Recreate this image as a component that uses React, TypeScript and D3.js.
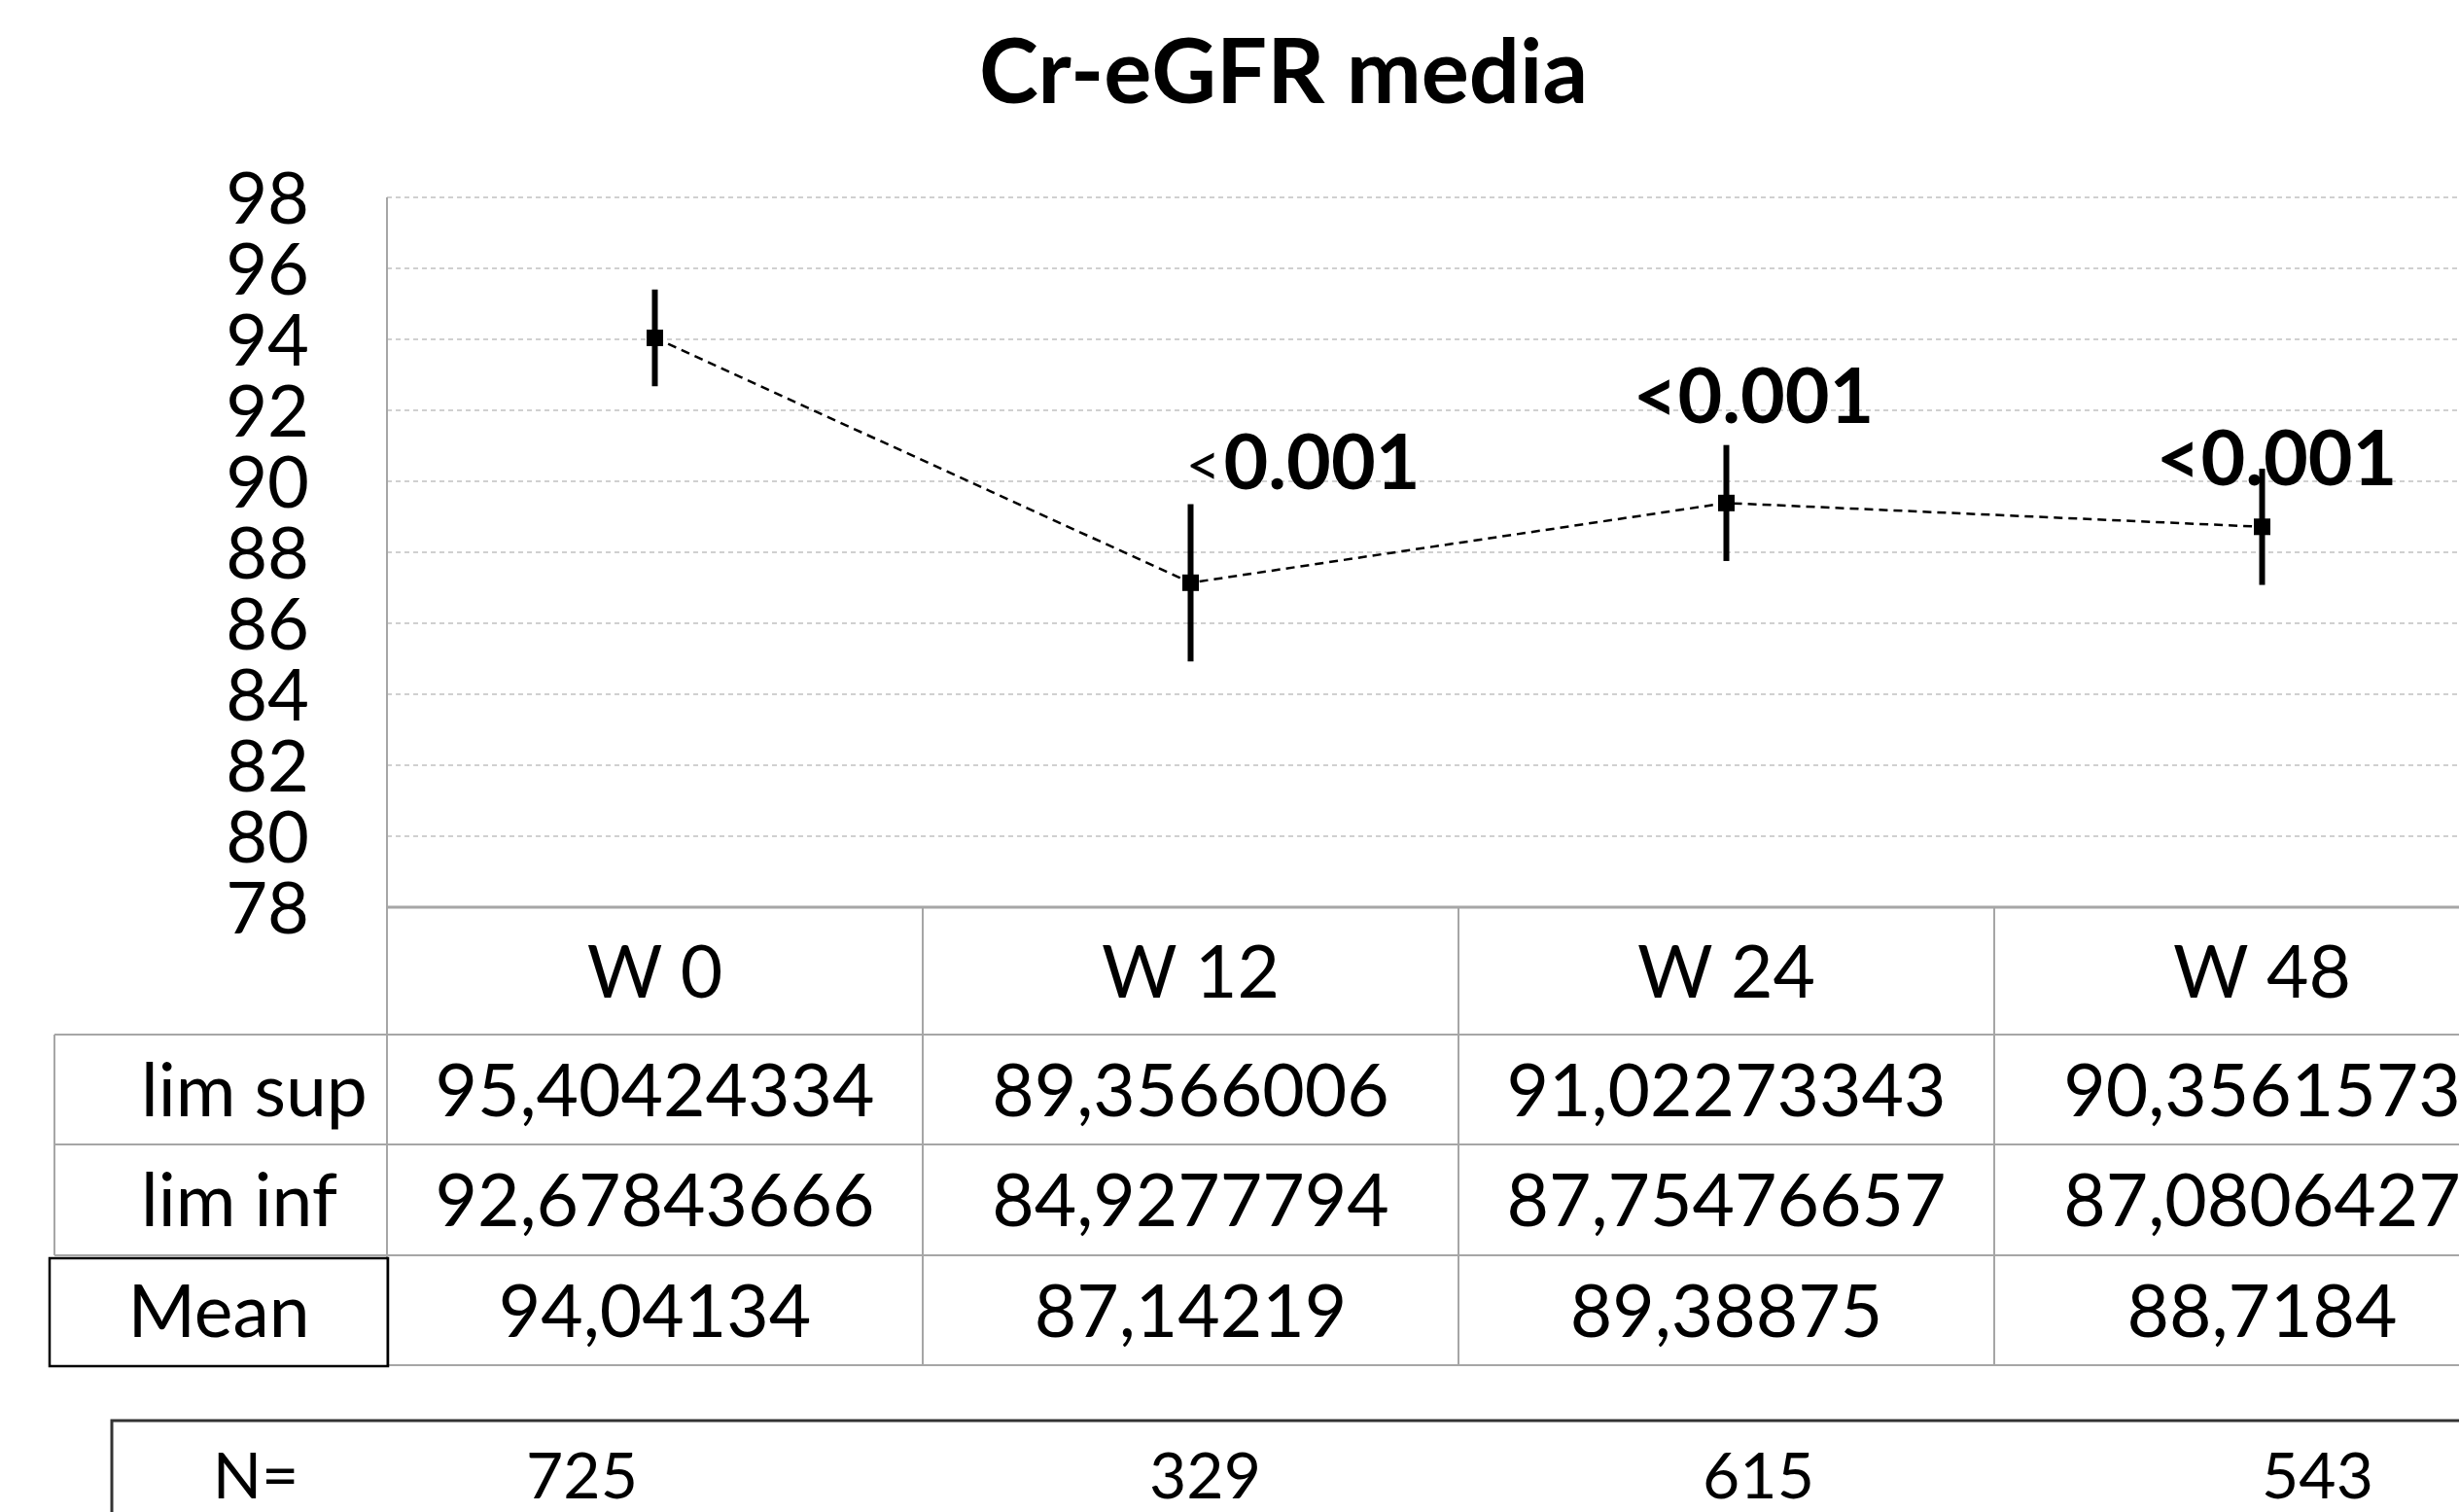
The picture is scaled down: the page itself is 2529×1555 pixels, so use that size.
import React from "react";
import * as d3 from "d3";

// ---- data ----
const categories = ["W 0", "W 12", "W 24", "W 48"];
const means = [94.04134, 87.14219, 89.38875, 88.7184];
const limSup = [95.40424334, 89.3566006, 91.02273343, 90.3561573];
const limInf = [92.67843666, 84.9277794, 87.75476657, 87.0806427];
const limSupText = ["95,40424334", "89,3566006", "91,02273343", "90,3561573"];
const limInfText = ["92,67843666", "84,9277794", "87,75476657", "87,0806427"];
const meanText = ["94,04134", "87,14219", "89,38875", "88,7184"];
const nValues = ["725", "329", "615", "543"];
const yTicks = [78, 80, 82, 84, 86, 88, 90, 92, 94, 96, 98];
// p-value annotations: category, value level of baseline (data units)
const pCats = ["W 12", "W 24", "W 48"];
const pBaseValues = [89.77, 91.64, 89.88];
const pTexts = ["0.001", "<0.001", "<0.001"];

const W = 2529;
const H = 1555;
const FONT = "Lato, Carlito, Calibri, sans-serif";

export default function App() {
  const x = d3.scaleBand<string>().domain(categories).range([398, 2602]).padding(0);
  const y = d3.scaleLinear().domain([78, 98]).range([933, 203]);
  const cx = (c: string) => (x(c) as number) + x.bandwidth() / 2;

  const line = d3
    .line<number>()
    .x((_, i) => cx(categories[i]))
    .y((d) => y(d));

  const plotLeft = 398;
  const right = 2602;
  const rowHeader = [933, 1064];
  const rowSup = [1064, 1177];
  const rowInf = [1177, 1291];
  const rowMean = [1291, 1404];
  const gray = "#a6a6a6";
  const mid = (r: number[]) => (r[0] + r[1]) / 2;

  const pOffsets = [34, 28, 15];

  return (
    <svg
      width={W}
      height={H}
      style={{ position: "absolute", left: 0, top: 0, background: "#fff" }}
      fontFamily={FONT}
    >
      <rect x={0} y={0} width={W} height={H} fill="#fff" />
      {/* title */}
      <text x={1320} y={106} textAnchor="middle" fontSize={92} fontWeight={700} fill="#000">
        Cr-eGFR media
      </text>

      {/* gridlines */}
      {yTicks
        .filter((t) => t !== 78)
        .map((t) => (
          <line
            key={"g" + t}
            x1={plotLeft}
            x2={right}
            y1={y(t)}
            y2={y(t)}
            stroke="#d0d0d0"
            strokeWidth={2}
            strokeDasharray="5,4"
          />
        ))}
      {/* plot left border */}
      <line x1={plotLeft} x2={plotLeft} y1={y(98)} y2={rowMean[1]} stroke={gray} strokeWidth={2} />
      {/* y tick labels */}
      {yTicks.map((t) => (
        <text key={"t" + t} x={318} y={y(t)} dy="0.36em" textAnchor="end" fontSize={74} fill="#000">
          {t}
        </text>
      ))}

      {/* data line */}
      <path d={line(means) || ""} fill="none" stroke="#000" strokeWidth={2.5} strokeDasharray="9,6" />
      {/* error bars */}
      {categories.map((c, i) => (
        <line key={"e" + c} x1={cx(c)} x2={cx(c)} y1={y(limSup[i])} y2={y(limInf[i])} stroke="#000" strokeWidth={6} />
      ))}
      {/* markers */}
      {categories.map((c, i) => (
        <rect key={"m" + c} x={cx(c) - 8.5} y={y(means[i]) - 8.5} width={17} height={17} fill="#000" />
      ))}

      {/* p-value labels */}
      {pCats.map((c, i) =>
        i === 0 ? (
          <g key={"p" + c}>
            <text x={cx(c) + pOffsets[i] - 3} y={y(pBaseValues[i]) - 3} textAnchor="end" fontWeight={400} fontSize={62} fill="#000">
              {"<"}
            </text>
            <text x={cx(c) + pOffsets[i]} y={y(pBaseValues[i])} fontWeight={700} fontSize={79} fill="#000">
              {pTexts[i]}
            </text>
          </g>
        ) : (
          <text
            key={"p" + c}
            x={cx(c) + pOffsets[i]}
            y={y(pBaseValues[i])}
            textAnchor="middle"
            fontWeight={700}
            fontSize={79}
            fill="#000"
          >
            {pTexts[i]}
          </text>
        )
      )}

      {/* data table lines */}
      <line x1={plotLeft} x2={right} y1={933} y2={933} stroke={gray} strokeWidth={3} />
      {[rowSup[0], rowInf[0], rowMean[0]].map((yy) => (
        <line key={"h" + yy} x1={56} x2={right} y1={yy} y2={yy} stroke={gray} strokeWidth={2} />
      ))}
      <line x1={plotLeft} x2={right} y1={rowMean[1]} y2={rowMean[1]} stroke={gray} strokeWidth={2} />
      <line x1={56} x2={56} y1={rowSup[0]} y2={rowInf[1]} stroke={gray} strokeWidth={2} />
      {categories.map((c) => (
        <line key={"v" + c} x1={(x(c) as number) + x.bandwidth()} x2={(x(c) as number) + x.bandwidth()} y1={933} y2={rowMean[1]} stroke={gray} strokeWidth={2} />
      ))}
      {/* mean box */}
      <rect x={51} y={1294} width={348} height={111} fill="none" stroke="#000" strokeWidth={2.5} />

      {/* row labels */}
      <text x={145} y={mid(rowSup)} dy="0.36em" fontSize={75} fill="#000">lim sup</text>
      <text x={145} y={mid(rowInf)} dy="0.36em" fontSize={75} fill="#000">lim inf</text>
      <text x={225} y={mid(rowMean)} dy="0.36em" textAnchor="middle" fontSize={75} fill="#000">Mean</text>

      {/* table values */}
      {categories.map((c, i) => (
        <g key={"tv" + c}>
          <text x={cx(c)} y={mid(rowHeader)} dy="0.36em" textAnchor="middle" fontSize={75} fill="#000">{c}</text>
          <text x={cx(c)} y={mid(rowSup)} dy="0.36em" textAnchor="middle" fontSize={75} fill="#000">{limSupText[i]}</text>
          <text x={cx(c)} y={mid(rowInf)} dy="0.36em" textAnchor="middle" fontSize={75} fill="#000">{limInfText[i]}</text>
          <text x={cx(c)} y={mid(rowMean)} dy="0.36em" textAnchor="middle" fontSize={75} fill="#000">{meanText[i]}</text>
        </g>
      ))}

      {/* N row */}
      <rect x={115} y={1461} width={2600} height={300} fill="none" stroke="#333" strokeWidth={3} />
      <text x={263} y={1541} textAnchor="middle" fontSize={66} fill="#000">N=</text>
      {nValues.map((n, i) => (
        <text key={"n" + i} x={cx(categories[i]) + [-75, 15, 33, 57][i]} y={1541} textAnchor="middle" fontSize={66} fill="#000">
          {n}
        </text>
      ))}
    </svg>
  );
}
